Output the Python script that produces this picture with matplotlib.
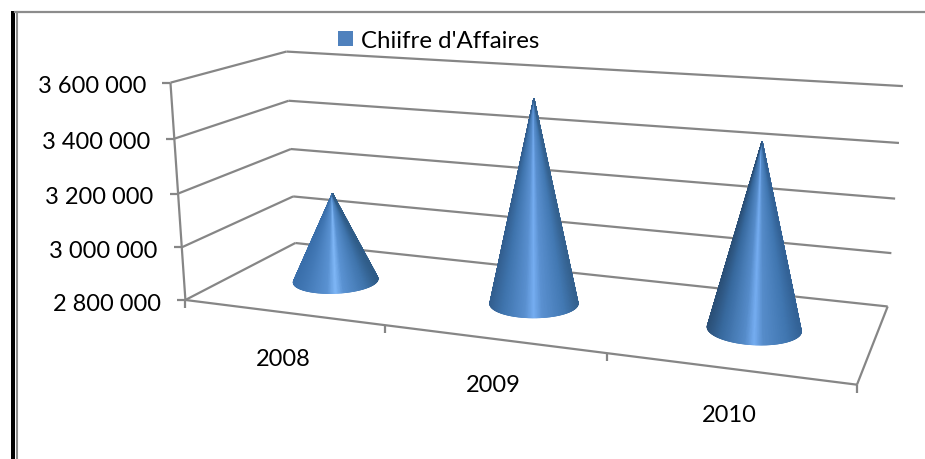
import numpy as np
import matplotlib
matplotlib.use('Agg')
import matplotlib.pyplot as plt
from matplotlib.collections import LineCollection
from matplotlib.colors import LinearSegmentedColormap
from matplotlib.patches import Patch, Rectangle

plt.rcParams['font.family'] = ['Lato', 'DejaVu Sans']

years = ['2008', '2009', '2010']
chiffre = [3140000, 3550000, 3455000]
series_name = "Chiifre d'Affaires"
value_ticks = [2800000, 3000000, 3200000, 3400000, 3600000]
tick_labels = ['2 800 000', '3 000 000', '3 200 000', '3 400 000', '3 600 000']

v_min = value_ticks[0]
v_max = value_ticks[-1]
line_col = '#868686'

#Where the box of the 3D chart lands on the page, one row per wall edge
front_left = [(186, 301), (181, 248), (178, 194), (174, 140), (171, 84)]
back_left = [(295, 244), (293.5, 198), (291, 150), (289, 102), (286, 52)]
back_right = [(888, 307), (891, 254), (895, 200), (899, 144), (903, 87)]
front_right = (857, 386)


#Fit the camera matrix of the 3D view from the box corners
def fit_camera():
    model = []
    page = []
    for k in range(5):
        model += [(0, 0, k / 4), (0, 1, k / 4), (3, 1, k / 4)]
        page += [front_left[k], back_left[k], back_right[k]]
    model.append((3, 0, 0))
    page.append(front_right)
    rows = []
    for (a, b, c), (x, y) in zip(model, page):
        x = x / 1000
        y = y / 1000
        rows.append([a, b, c, 1, 0, 0, 0, 0, -x * a, -x * b, -x * c, -x])
        rows.append([0, 0, 0, 0, a, b, c, 1, -y * a, -y * b, -y * c, -y])
    vt = np.linalg.svd(np.array(rows))[2]
    return vt[-1].reshape(3, 4)


camera = fit_camera()


#Category position, depth in the box and value to page pixels
def project(u, d, value):
    u = np.asarray(u, dtype=float)
    d = np.asarray(d, dtype=float)
    h = (np.asarray(value, dtype=float) - v_min) / (v_max - v_min)
    one = np.ones_like(u + d + h)
    p = camera @ np.array([u * one, d * one, h * one, one])
    return 1000 * p[0] / p[2], 1000 * p[1] / p[2]


fig = plt.figure(figsize=(9.25, 4.6), dpi=100)
ax = fig.add_axes([0, 0, 1, 1])
ax.set_xlim(0, 925)
ax.set_ylim(460, 0)
ax.axis('off')


def line(p, q, lw=1.6):
    ax.plot([p[0], q[0]], [p[1], q[1]], color=line_col, lw=lw, solid_capstyle='butt', zorder=1)


#Walls and grid
for value, label in zip(value_ticks, tick_labels):
    fl = project(0, 0, value)
    bl = project(0, 1, value)
    br = project(3, 1, value)
    line(fl, bl)
    line(bl, br)
    line((fl[0] - 8, fl[1]), fl)
    ax.text(fl[0] - 24.5, fl[1] + 3.2, label, ha='right', va='center', fontsize=17, color='black')

line(project(0, 0, v_min), project(0, 0, v_max))
line(project(0, 0, v_min), project(3, 0, v_min))
line(project(3, 0, v_min), project(3, 1, v_min))

#Category ticks and labels
for i in range(4):
    x, y = project(i, 0, v_min)
    line((x, y), (x, y + 8))
for i, year in enumerate(years):
    x, y = project(i + 0.5, 0, v_min)
    ax.text(x + 1, y + 46, year, ha='center', va='center', fontsize=17, color='black')

#Cones, left to right shading differs a little per cone
stops = [0, 0.14, 0.4, 0.5, 0.6, 0.86, 1]
cone_cmaps = [
    ['#3a6fab', '#4379b6', '#5a92d2', '#80b8f8', '#5a92d2', '#3f74ac', '#2f5c88'],
    ['#335f90', '#3f74ad', '#5a90d0', '#76aef2', '#5a90d0', '#4278b2', '#34618f'],
    ['#2b5078', '#386a9f', '#568cca', '#76aef2', '#568cca', '#4076b0', '#336296'],
]
angles = np.linspace(0, 2 * np.pi, 361)
radius_u = 0.198
radius_d = 0.2
for i, value in enumerate(chiffre):
    cmap = LinearSegmentedColormap.from_list('cone', list(zip(stops, cone_cmaps[i])))
    bx, by = project(i + 0.5 + radius_u * np.cos(angles), 0.5 + radius_d * np.sin(angles), v_min)
    tx, ty = project(i + 0.5, 0.5, value)

    #silhouette: the base points seen at the widest angle from the tip
    seen = np.arctan2(bx - tx, by - ty)
    left = np.argmin(seen)
    right = np.argmax(seen)
    if left > right:
        left, right = right, left
    k = np.arange(left, right + 1)
    if np.mean(by[k]) < np.mean(by):
        k = np.r_[np.arange(right, len(angles) - 1), np.arange(0, left + 1)]
    ex = bx[k]
    ey = by[k]
    shade = (ex - bx.min()) / (bx.max() - bx.min())

    X = np.vstack([np.full_like(ex, tx), ex])
    Y = np.vstack([np.full_like(ey, ty), ey])
    C = np.vstack([shade, shade])
    ax.pcolormesh(X, Y, C, shading='gouraud', cmap=cmap, vmin=0, vmax=1, zorder=3)

    #soft edge around the mesh, which is drawn without antialiasing
    segs = [[(ex[j], ey[j]), (ex[j + 1], ey[j + 1])] for j in range(len(ex) - 1)]
    cols = [cmap(shade[j]) for j in range(len(ex) - 1)]
    segs += [[(tx, ty), (ex[0], ey[0])], [(tx, ty), (ex[-1], ey[-1])]]
    cols += [cmap(shade[0]), cmap(shade[-1])]
    ax.add_collection(LineCollection(segs, colors=cols, linewidths=0.8, zorder=3.1))

#Outer frame of the picture
ax.add_patch(Rectangle((11, 12), 4, 450, facecolor='black', edgecolor='none', zorder=4))
ax.plot([17, 17], [13, 460], color='#8c8c8c', lw=1.5, zorder=4)
ax.plot([15, 925], [13, 13], color='#8c8c8c', lw=1.6, zorder=4)

handle = Patch(facecolor='#4f81bd', edgecolor='none')
ax.legend([handle], [series_name], loc='center left', bbox_to_anchor=(331, 41.5),
          bbox_transform=ax.transData, frameon=False, fontsize=17.3,
          handlelength=0.63, handleheight=0.63, handletextpad=0.3, borderpad=0, borderaxespad=0.3)

plt.savefig('out.png', dpi=100)
